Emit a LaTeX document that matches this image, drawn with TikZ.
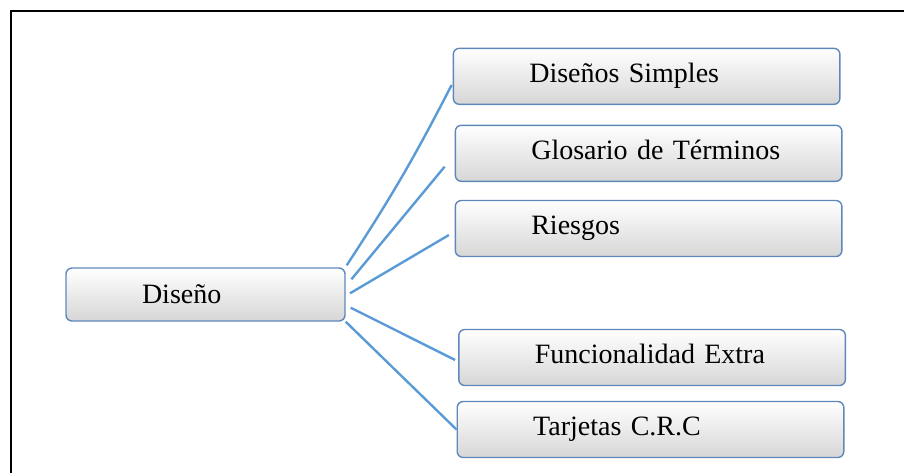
\documentclass[tikz,border=0pt]{standalone}
\usepackage{fontspec}
\setmainfont{Liberation Serif}
\usetikzlibrary{positioning}
\definecolor{lineblue}{HTML}{5B9BD5}
\definecolor{boxblue}{HTML}{5E88BA}
\tikzset{
  basic/.style  = {draw=boxblue, line width=0.7pt, rectangle, rounded corners=3pt,
                   top color=white, bottom color=black!16,
                   font=\fontsize{14pt}{16pt}\selectfont, align=left, inner xsep=0pt,
                   execute at begin node={\hspace*{38pt}}},
  root/.style   = {basic, text width=139.5pt, minimum height=26.5pt,
                   text height=9.5pt, text depth=1pt},
  level 2/.style = {basic, text width=193.3pt, minimum height=28pt,
                   text height=9.5pt, text depth=3.5pt},
  conn/.style   = {draw=lineblue, line width=1.2pt}
}

\begin{document}
\begin{tikzpicture}
\useasboundingbox (0,0) rectangle (452pt,-236.5pt);
% marco
\draw[line width=0.8pt] (5.5pt,-236.5pt) |- (452pt,-5.5pt);

% raiz
\node[root] (d) at (102.75pt,-147.25pt) {Diseño};

% segundo nivel, nodos relativos
\begin{scope}[every node/.style={level 2}]
\node at (323.3pt,-38.15pt) (c1) {Diseños Simples};
\node [below of = c1, node distance=38.5pt, xshift=1pt] (c2) {Glosario de Términos};
\node [below of = c2, node distance=37.6pt] (c3) {Riesgos};
\node [below of = c3, node distance=64.5pt, xshift=1.75pt] (c4) {Funcionalidad Extra};
\node [below of = c4, node distance=36pt, xshift=-0.8pt] (c5) {Tarjetas C.R.C};
\end{scope}

\draw[conn] ([shift={(0.5pt,1pt)}]d.north east) to[bend right=3] ([shift={(-0.5pt,-4.35pt)}]c1.west);
\foreach \value/\from/\to in {2/{2.85pt,7.6pt}/{-5pt,-6.7pt},3/{2.15pt,0.6pt}/{-2.85pt,-3.25pt},4/{2.5pt,-6.6pt}/{-1.5pt,-1.25pt}}
  \draw[conn] ([shift={(\from)}]d.east) -- ([shift={(\to)}]c\value.west);
\draw[conn] (d.south east) -- (c5.west);
\end{tikzpicture}
\end{document}
